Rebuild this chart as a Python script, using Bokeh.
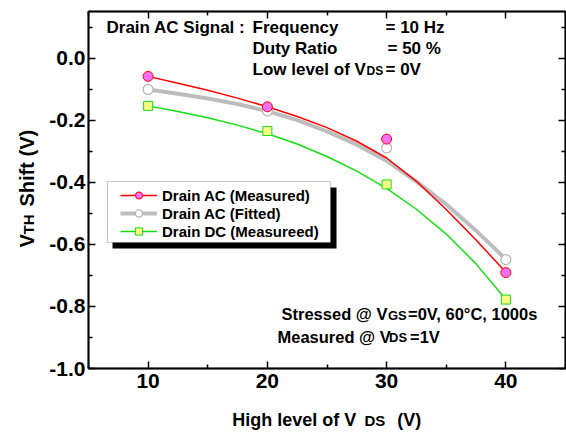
from math import pi

from bokeh.plotting import figure
from bokeh.models import (Range1d, LinearAxis, FixedTicker, Label, Legend,
                          LegendItem, BoxAnnotation)
from bokeh.embed import file_html
from bokeh.resources import INLINE

# Measured threshold-voltage shifts at each high level of VDS
vds_high = [10, 20, 30, 40]
ac_measured = [-0.059, -0.157, -0.261, -0.691]
ac_fitted = [-0.101, -0.170, -0.289, -0.649]
dc_measured = [-0.154, -0.235, -0.407, -0.778]

# Smooth trend curves, sampled every 2.5 V
curve_vds = [10, 12.5, 15, 17.5, 20, 22.5, 25, 27.5, 30, 32.5, 35, 37.5, 40]
ac_measured_curve = [-0.059, -0.081, -0.104, -0.129, -0.157, -0.188, -0.224,
                     -0.268, -0.322, -0.397, -0.488, -0.586, -0.690]
ac_fitted_curve = [-0.101, -0.115, -0.130, -0.148, -0.171, -0.200, -0.236,
                   -0.279, -0.331, -0.398, -0.471, -0.556, -0.648]
dc_measured_curve = [-0.154, -0.172, -0.192, -0.216, -0.244, -0.277, -0.317,
                     -0.364, -0.420, -0.487, -0.567, -0.663, -0.778]

series_names = ["Drain AC (Measured)", "Drain AC (Fitted)", "Drain DC (Measureed)"]

x_ticks = [10, 20, 30, 40]
x_minor_ticks = [5, 15, 25, 35, 45]
x_tick_labels = ["10", "20", "30", "40"]
y_ticks = [-1.0, -0.8, -0.6, -0.4, -0.2, 0.0]
y_minor_ticks = [-0.9, -0.7, -0.5, -0.3, -0.1, 0.1]
y_tick_labels = ["-1.0", "-0.8", "-0.6", "-0.4", "-0.2", "0.0"]

X_LO, X_HI = 5, 45
Y_LO, Y_HI = -1.0, 0.15

FONT = "Liberation Sans"
W, H = 566, 433
LEFT, RIGHT, TOP, BOTTOM = 88, 565, 11, 368   # axes box edges in page pixels
BASELINE_LIFT = 0.32  # em; Label draws its alphabetic baseline this far below the anchor

# The drawing frame spans the whole page; the axes box sits inside it, so
# the ranges are widened by the page margins around that box.
px_per_x = (RIGHT - LEFT) / (X_HI - X_LO)
px_per_y = (BOTTOM - TOP) / (Y_HI - Y_LO)
x_range = Range1d(X_LO - LEFT / px_per_x, X_HI + (W - RIGHT) / px_per_x)
y_range = Range1d(Y_LO - (H - BOTTOM) / px_per_y, Y_HI + TOP / px_per_y)

p = figure(width=W, height=H, x_range=x_range, y_range=y_range,
           output_backend="svg", toolbar_location=None,
           min_border_left=0, min_border_right=0,
           min_border_top=0, min_border_bottom=0)
p.grid.visible = False
p.outline_line_color = None
p.background_fill_color = "white"
p.border_fill_color = "white"

xticker = FixedTicker(ticks=x_ticks, minor_ticks=x_minor_ticks)
yticker = FixedTicker(ticks=y_ticks, minor_ticks=y_minor_ticks)


def style_axis(ax, show_labels):
    ax.axis_line_width = 2
    ax.axis_line_color = "black"
    ax.major_tick_in = 7
    ax.major_tick_out = 0
    ax.minor_tick_in = 4
    ax.minor_tick_out = 0
    ax.major_tick_line_width = 1.5
    ax.minor_tick_line_width = 1.5
    ax.major_tick_line_color = "black"
    ax.minor_tick_line_color = "black"
    ax.axis_label = None
    if show_labels:
        ax.major_label_text_font = FONT
        ax.major_label_text_font_style = "bold"
        ax.major_label_text_font_size = "21px"
        ax.major_label_text_color = "black"
    else:
        ax.major_label_text_color = None
        ax.major_label_text_alpha = 0


xa = p.xaxis[0]
xa.ticker = xticker
xa.fixed_location = Y_LO
xa.bounds = (X_LO, X_HI)
xa.major_label_overrides = dict(zip(x_ticks, x_tick_labels))
style_axis(xa, True)
xa.major_label_standoff = 5

ya = p.yaxis[0]
ya.ticker = yticker
ya.fixed_location = X_LO
ya.bounds = (Y_LO, Y_HI)
ya.major_label_overrides = dict(zip(y_ticks, y_tick_labels))
style_axis(ya, True)
ya.major_label_standoff = 3

top_axis = LinearAxis(ticker=xticker, fixed_location=Y_HI, bounds=(X_LO, X_HI))
style_axis(top_axis, False)
p.add_layout(top_axis, "above")
right_axis = LinearAxis(ticker=yticker, fixed_location=X_HI, bounds=(Y_LO, Y_HI))
style_axis(right_axis, False)
p.add_layout(right_axis, "right")

# closed box around the axes area
p.add_layout(BoxAnnotation(left=X_LO, right=X_HI, bottom=Y_LO, top=Y_HI,
                           fill_alpha=0, line_color="black", line_width=2,
                           level="underlay"))

# trend curves
fit_line = p.line(curve_vds, ac_fitted_curve, line_color="#BDBDBD", line_width=4)
ac_line = p.line(curve_vds, ac_measured_curve, line_color="#FF0000", line_width=1.5)
dc_line = p.line(curve_vds, dc_measured_curve, line_color="#11E011", line_width=1.5)

# data points
fit_pts = p.scatter(vds_high, ac_fitted, marker="circle", size=10,
                    fill_color="white", line_color="#B5B5B5", line_width=1.2)
ac_pts = p.scatter(vds_high, ac_measured, marker="circle", size=10,
                   fill_color="#F870F8", line_color="#FF0000", line_width=1)
dc_pts = p.scatter(vds_high, dc_measured, marker="square", size=9,
                   fill_color="#FFFF88", line_color="#11E011", line_width=1)


def box_px(left, right, top, bottom, **style):
    """Box annotation given in page pixels (origin top-left)."""
    return BoxAnnotation(left=left, right=right, top=H - top, bottom=H - bottom,
                         left_units="screen", right_units="screen",
                         top_units="screen", bottom_units="screen", **style)


# legend frame with its drop shadow
p.add_layout(box_px(112, 336, 187, 248, fill_color="black", fill_alpha=1, line_color=None))
p.add_layout(box_px(107, 330, 181, 242, fill_color="white", fill_alpha=1,
                    line_color="#444444", line_width=1))

legend = Legend(items=[LegendItem(label=series_names[0], renderers=[ac_line, ac_pts]),
                       LegendItem(label=series_names[1], renderers=[fit_line, fit_pts]),
                       LegendItem(label=series_names[2], renderers=[dc_line, dc_pts])],
                location=(120, H - 240), orientation="vertical",
                border_line_color=None, background_fill_alpha=0,
                padding=0, spacing=0, margin=0,
                label_height=18, glyph_height=18, glyph_width=37, label_standoff=5,
                label_text_font=FONT, label_text_font_style="bold",
                label_text_font_size="15px", label_text_color="black")
p.add_layout(legend)


def put(text, x, baseline, size, vertical=False):
    """Place a bold text run by page-pixel position (x, baseline)."""
    lift = BASELINE_LIFT * size
    if vertical:
        sx, sy, angle = x - lift, H - baseline, pi / 2
    else:
        sx, sy, angle = x, H - baseline + lift, 0.0
    p.add_layout(Label(x=sx, y=sy, x_units="screen", y_units="screen",
                       text=text, angle=angle, text_font=FONT, text_font_style="bold",
                       text_font_size=f"{size}px", text_color="black",
                       text_baseline="alphabetic", text_align="left"))


# test conditions
put("Drain AC Signal :", 106, 32, 17)
put("Frequency", 252, 32, 17)
put("= 10 Hz", 385, 32, 17)
put("Duty Ratio", 252, 53, 17)
put("= 50 %", 387, 53, 17)
put("Low level of V", 252, 74, 17)
put("DS", 366, 74, 12)
put("= 0V", 385, 74, 17)

put("Stressed @ V", 281, 319, 16.5)
put("GS", 387.5, 319, 13)
put("=0V, 60\u00b0C, 1000s", 407.5, 319, 16.5)
put("Measured @ V", 277, 341.5, 16.5)
put("DS", 388.5, 341.5, 13)
put("=1V", 409.5, 341.5, 16.5)

# axis titles
put("High level of V", 231.7, 425, 18)
put("DS", 364, 425, 15)
put("(V)", 396.7, 425, 18)

put("V", 33, 247, 20, vertical=True)
put("TH", 33, 234, 15, vertical=True)
put("Shift (V)", 33, 206, 20, vertical=True)

open("out.html", "w").write(file_html(p, INLINE))
